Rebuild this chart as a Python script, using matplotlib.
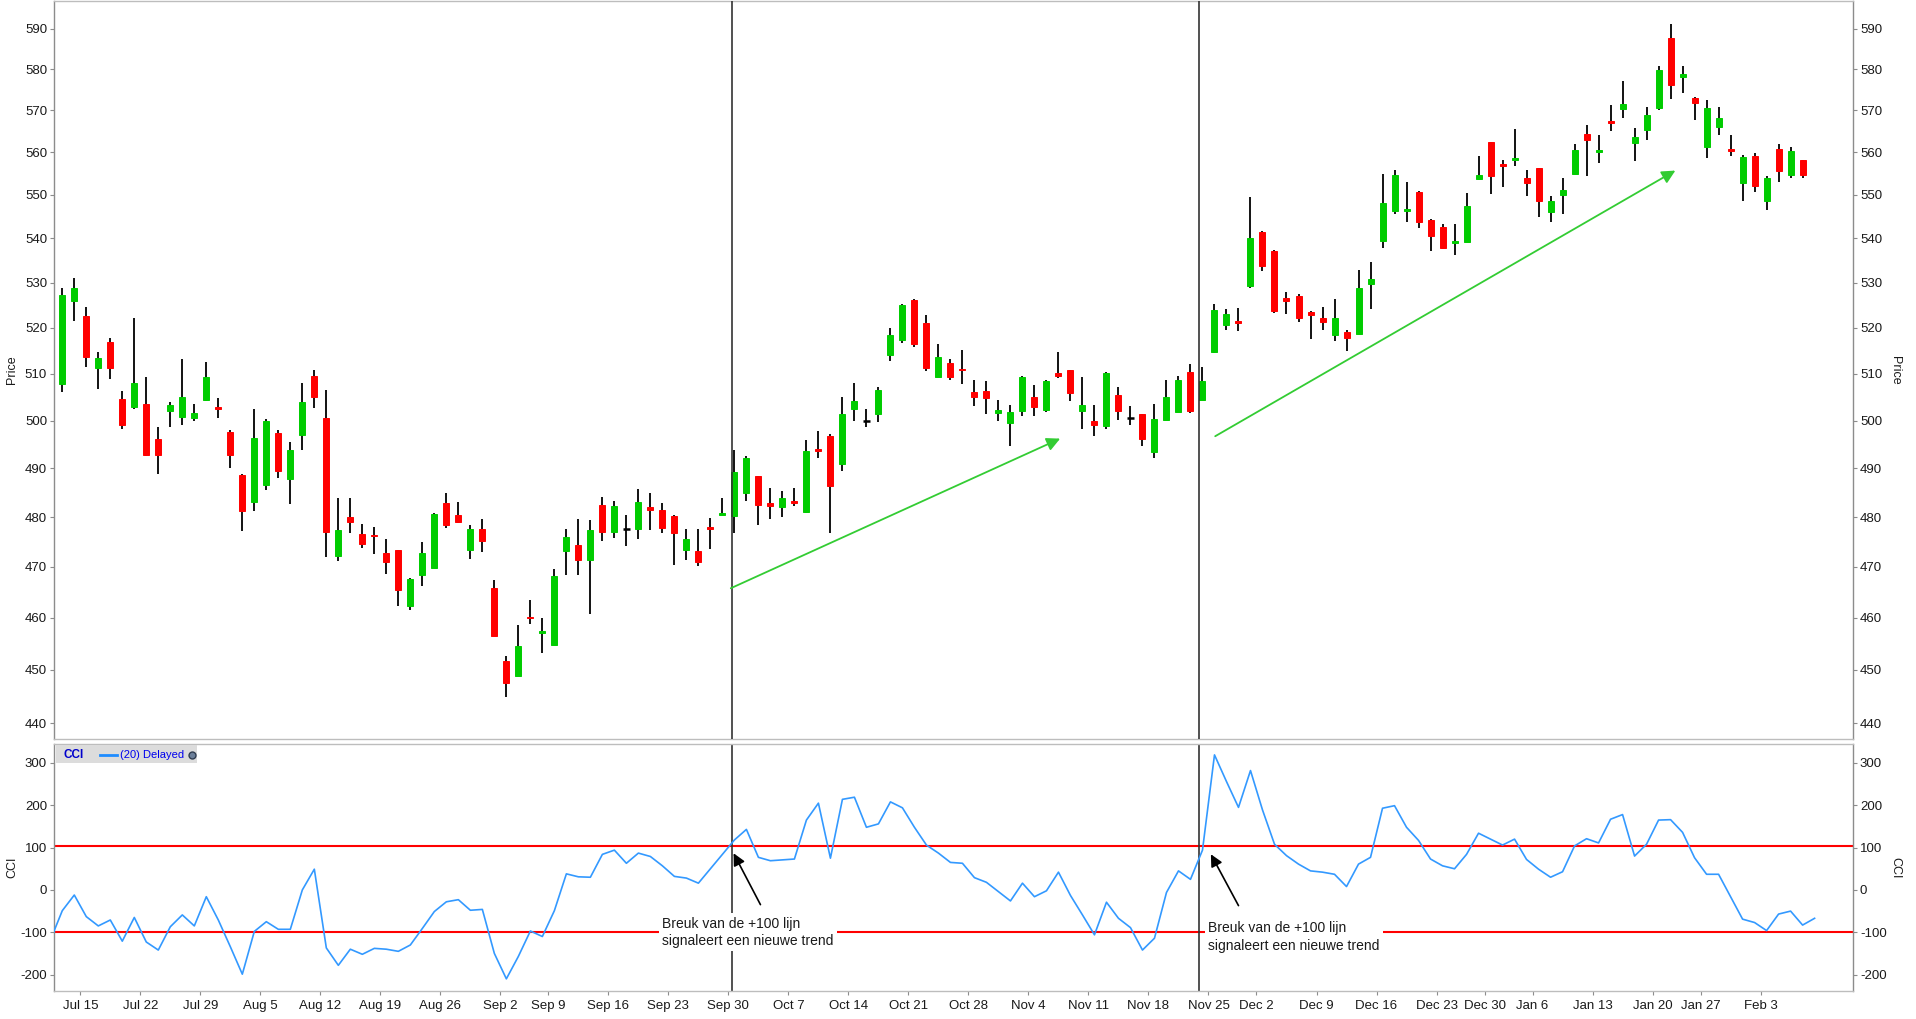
import matplotlib
matplotlib.use('Agg')
import matplotlib.pyplot as plt
from matplotlib.patches import Rectangle
from matplotlib.lines import Line2D
from matplotlib.ticker import FixedLocator, NullLocator, FixedFormatter
import numpy as np

plt.rcParams['font.family'] = ['Liberation Sans', 'DejaVu Sans']

# ---------------- data ----------------
opens = [507.8, 526.0, 522.6, 511.2, 516.9, 504.6, 502.8, 503.5, 496.1, 502.1,
         500.7, 500.5, 504.4, 502.9, 497.5, 488.6, 483.0, 486.5, 497.3, 487.8,
         496.9, 509.6, 500.6, 472.1, 480.1, 476.6, 476.4, 472.7, 473.3, 462.4,
         468.5, 469.9, 482.9, 480.5, 473.3, 477.6, 465.9, 451.7, 448.9, 460.2,
         457.0, 454.8, 473.2, 474.3, 471.3, 482.5, 477.1, 477.7, 477.7, 482.1,
         481.5, 480.3, 473.3, 473.1, 478.1, 480.5, 480.3, 485.0, 488.4, 482.8,
         482.1, 483.3, 481.1, 494.0, 496.7, 490.9, 502.5, 500.0, 501.3, 514.1,
         517.3, 526.2, 521.0, 509.3, 512.4, 511.1, 506.0, 506.2, 501.6, 499.4,
         502.1, 505.1, 502.3, 510.1, 510.7, 502.1, 499.8, 498.8, 505.4, 500.6,
         501.3, 493.4, 500.2, 501.9, 510.3, 504.4, 514.6, 520.7, 521.5, 529.3,
         541.5, 537.2, 526.5, 527.1, 523.5, 522.2, 518.5, 519.0, 518.7, 529.8,
         539.3, 546.4, 546.4, 550.8, 544.3, 542.7, 539.0, 539.2, 553.7, 562.4,
         557.2, 558.2, 554.0, 556.3, 546.0, 550.1, 554.9, 564.3, 560.0, 567.4,
         570.3, 562.2, 565.4, 570.6, 587.8, 578.1, 573.1, 561.2, 566.1, 560.7,
         552.8, 559.1, 548.5, 560.7, 554.7, 558.2]
highs = [528.9, 531.0, 524.6, 514.6, 517.8, 506.3, 522.2, 509.3, 498.6, 503.9,
         513.1, 503.6, 512.6, 504.7, 498.1, 488.8, 502.5, 500.4, 498.1, 495.5,
         508.0, 510.7, 506.6, 484.0, 484.0, 478.7, 478.1, 475.5, 473.4, 467.8,
         475.0, 480.8, 485.0, 483.0, 478.5, 479.7, 467.4, 452.7, 458.7, 463.4,
         459.9, 469.7, 477.7, 479.7, 479.5, 484.2, 483.3, 480.5, 485.8, 485.0,
         482.9, 480.5, 477.7, 477.7, 479.9, 484.0, 493.8, 492.6, 488.5, 486.0,
         485.4, 486.0, 495.9, 497.7, 497.1, 505.0, 508.1, 502.5, 507.1, 520.0,
         525.3, 526.3, 522.8, 516.5, 513.2, 515.2, 508.6, 508.4, 504.3, 503.2,
         509.4, 507.5, 508.6, 514.6, 510.9, 509.2, 503.2, 510.3, 507.1, 503.0,
         501.4, 503.6, 508.6, 509.4, 512.0, 511.4, 525.3, 524.2, 524.4, 549.6,
         541.6, 537.3, 527.8, 527.5, 523.6, 524.6, 526.4, 519.5, 532.9, 534.6,
         554.9, 555.8, 553.1, 550.9, 544.4, 543.4, 543.2, 550.5, 559.1, 562.5,
         558.2, 565.5, 555.8, 556.4, 549.8, 554.0, 561.9, 566.5, 564.1, 571.3,
         577.2, 565.8, 570.8, 580.8, 591.3, 580.8, 573.2, 572.4, 570.8, 564.1,
         559.3, 559.8, 554.5, 561.9, 561.2, 558.3]
lows = [506.1, 521.5, 511.4, 506.7, 508.9, 498.2, 502.5, 492.6, 488.8, 498.6,
        499.0, 499.9, 504.2, 500.5, 490.1, 477.3, 481.3, 485.6, 488.0, 482.7,
        493.8, 502.6, 471.9, 471.1, 476.7, 473.7, 472.5, 468.7, 462.4, 461.5,
        466.3, 469.8, 477.9, 478.9, 471.5, 472.9, 456.4, 444.8, 448.9, 458.8,
        453.3, 454.8, 468.5, 468.5, 460.8, 475.1, 475.7, 474.1, 475.5, 477.5,
        476.9, 470.3, 471.3, 470.1, 473.5, 480.5, 476.9, 483.3, 478.5, 479.7,
        480.1, 482.3, 480.9, 492.1, 476.9, 489.5, 499.8, 498.6, 499.6, 512.8,
        516.7, 515.8, 510.6, 509.2, 508.6, 507.8, 503.1, 501.4, 500.0, 494.6,
        501.0, 501.0, 501.9, 509.0, 504.1, 498.3, 496.7, 498.3, 500.2, 499.0,
        494.6, 492.1, 500.1, 501.8, 501.7, 504.3, 514.4, 519.6, 519.2, 528.7,
        532.7, 523.3, 523.1, 521.3, 517.6, 519.5, 517.1, 515.0, 518.6, 524.2,
        537.9, 545.5, 543.8, 542.4, 537.1, 537.5, 536.3, 539.2, 553.6, 550.3,
        551.9, 556.8, 549.8, 544.8, 543.8, 545.7, 554.8, 554.5, 557.5, 565.0,
        568.1, 558.0, 562.9, 570.1, 572.8, 574.3, 567.6, 558.6, 564.1, 559.1,
        548.5, 550.8, 546.6, 553.1, 554.0, 554.0]
closes = [527.3, 528.9, 513.6, 513.3, 511.2, 499.0, 508.1, 492.8, 492.8, 503.3,
          505.0, 501.5, 509.2, 502.4, 492.8, 481.2, 496.3, 500.0, 489.5, 493.8,
          503.9, 505.0, 477.1, 477.5, 479.1, 474.5, 476.1, 470.9, 465.4, 467.7,
          472.7, 480.7, 478.5, 479.1, 477.6, 475.1, 456.5, 447.5, 454.6, 459.9,
          457.5, 468.3, 475.9, 471.3, 477.5, 477.1, 482.3, 477.7, 483.1, 481.5,
          477.9, 476.7, 475.5, 470.9, 477.7, 480.9, 489.3, 492.1, 482.5, 482.3,
          484.0, 482.8, 493.6, 493.7, 486.4, 501.3, 504.2, 500.0, 506.4, 518.4,
          525.1, 516.5, 511.2, 513.7, 509.3, 510.7, 504.9, 504.7, 502.3, 501.9,
          509.3, 502.9, 508.4, 509.6, 505.8, 503.4, 499.0, 510.1, 502.1, 500.6,
          496.1, 500.4, 505.1, 508.6, 502.1, 508.4, 524.0, 523.1, 521.0, 540.2,
          533.8, 523.7, 526.0, 522.2, 522.8, 521.3, 522.2, 517.8, 528.7, 530.9,
          548.2, 554.6, 546.8, 543.8, 540.6, 537.9, 539.5, 547.5, 554.6, 554.4,
          556.8, 558.6, 552.8, 548.5, 548.7, 551.2, 560.5, 562.9, 560.5, 566.9,
          571.5, 563.6, 568.8, 579.8, 576.2, 578.9, 571.8, 570.6, 568.1, 560.2,
          558.8, 552.2, 554.0, 555.6, 560.2, 554.7]

# CCI(20): first value belongs to the day before the first candle,
# last value to the day after the last candle
cci = [-119, -49, -12, -63, -85, -71, -121, -65, -123, -142, -87,
       -59, -85, -16, -71, -134, -199, -98, -75, -93, -93,
       0, 49, -137, -178, -140, -152, -138, -140, -145, -130,
       -91, -51, -28, -23, -48, -46, -150, -210, -157, -97,
       -110, -49, 38, 31, 30, 84, 94, 63, 87, 79,
       57, 32, 28, 16, 50, 84, 118, 143, 77, 69,
       71, 73, 165, 205, 75, 214, 219, 148, 156, 208,
       194, 148, 106, 87, 65, 63, 29, 18, -4, -26,
       16, -16, -2, 42, -13, -59, -106, -29, -67, -89,
       -142, -114, -6, 45, 25, 94, 319, 256, 195, 282,
       189, 108, 81, 61, 45, 42, 37, 8, 61, 77,
       193, 199, 148, 117, 73, 57, 50, 84, 134, 120,
       106, 120, 72, 49, 30, 43, 104, 121, 111, 167,
       178, 80, 108, 165, 166, 136, 76, 37, 37, -16,
       -69, -77, -96, -57, -50, -83, -67]

week_labels = ['Jul 15', 'Jul 22', 'Jul 29', 'Aug 5', 'Aug 12', 'Aug 19', 'Aug 26',
               'Sep 2', 'Sep 9', 'Sep 16', 'Sep 23', 'Sep 30', 'Oct 7', 'Oct 14',
               'Oct 21', 'Oct 28', 'Nov 4', 'Nov 11', 'Nov 18', 'Nov 25', 'Dec 2',
               'Dec 9', 'Dec 16', 'Dec 23', 'Dec 30', 'Jan 6', 'Jan 13', 'Jan 20',
               'Jan 27', 'Feb 3']
# trading-day index of the first session of each labelled week
week_start_idx = [2, 7, 12, 17, 22, 27, 32, 37, 41, 46, 51, 56, 61, 66, 71, 76,
                  81, 86, 91, 96, 100, 105, 110, 115, 119, 123, 128, 133, 137, 142]

price_ticks = [440, 450, 460, 470, 480, 490, 500, 510, 520, 530, 540, 550, 560, 570, 580, 590]
cci_ticks = [-200, -100, 0, 100, 200, 300]
cci_levels = [103, -100]
signal_idx = [55.78, 94.75]
note_text = 'Breuk van de +100 lijn\nsignaleert een nieuwe trend'

# ---------------- layout ----------------
W, H = 1916, 1019
fig = plt.figure(figsize=(W / 100, H / 100), dpi=100)


def fx(px):
    return px / W


def fy(py):
    return 1 - py / H


L, R = 54, 1853
ax = fig.add_axes([fx(L), fy(739.3), fx(R) - fx(L), fy(0.5) - fy(739.3)])
ax2 = fig.add_axes([fx(L), fy(990.7), fx(R) - fx(L), fy(744.3) - fy(990.7)])

xmin, xmax = -0.69, 149.2
TXT = '#1a1a1a'
for a in (ax, ax2):
    a.set_xlim(xmin, xmax)
    a.spines['left'].set_color('#8c8c8c')
    a.spines['right'].set_color('#8c8c8c')
    a.spines['top'].set_color('#bdbdbd')
    a.spines['bottom'].set_color('#bdbdbd')
    for s in a.spines.values():
        s.set_linewidth(1.0)
    a.tick_params(axis='y', left=True, right=True, labelleft=True, labelright=True,
                  length=3, width=0.8, color='#8c8c8c', labelsize=9.5,
                  labelcolor=TXT, pad=2)

# ---------------- price panel ----------------
ax.set_yscale('log')
ax.set_ylim(437.0, 597.1)
ax.yaxis.set_major_locator(FixedLocator(price_ticks))
ax.yaxis.set_minor_locator(NullLocator())
ax.yaxis.set_major_formatter(FixedFormatter([str(t) for t in price_ticks]))
ax.yaxis.set_minor_formatter(FixedFormatter([]))
ax.tick_params(axis='x', bottom=False, labelbottom=False)

o = np.array(opens)
c = np.array(closes)
h = np.array(highs)
lo = np.array(lows)
x = np.arange(len(o))
ax.vlines(x, lo, h, color='black', lw=1.3, zorder=2)
up = c > o
dn = c < o
eq = c == o
bw = 0.5
ax.bar(x[up], c[up] - o[up], bottom=o[up], width=bw, color='#00cc00',
       edgecolor='#00cc00', lw=0.7, zorder=3)
ax.bar(x[dn], o[dn] - c[dn], bottom=c[dn], width=bw, color='#ff0000',
       edgecolor='#ff0000', lw=0.7, zorder=3)
ax.hlines(o[eq], x[eq] - bw / 2 - 0.05, x[eq] + bw / 2 + 0.05, color='black', lw=1.8, zorder=3)

for v in signal_idx:
    ax.axvline(v, color='#333333', lw=1.2, zorder=4)

green = '#33cc33'
ax.annotate('', xy=(83.14, 496.2), xytext=(55.7, 465.8),
            arrowprops=dict(arrowstyle='-|>', color=green, lw=1.3,
                            mutation_scale=20, shrinkA=0, shrinkB=0), zorder=5)
ax.annotate('', xy=(134.4, 555.7), xytext=(96.06, 496.7),
            arrowprops=dict(arrowstyle='-|>', color=green, lw=1.3,
                            mutation_scale=20, shrinkA=0, shrinkB=0), zorder=5)

# ---------------- CCI panel ----------------
ax2.set_ylim(-238, 344)
ax2.set_yticks(cci_ticks)
ax2.set_yticklabels([str(t) for t in cci_ticks])
xc = np.arange(-1, len(cci) - 1)
ax2.plot(xc, cci, color='#3399ff', lw=1.2, zorder=3)
for lev in cci_levels:
    ax2.axhline(lev, color='#ff0000', lw=1.5, zorder=2)
for v in signal_idx:
    ax2.axvline(v, color='#333333', lw=1.2, zorder=2.5)

ax2.set_xticks([i - 0.5 for i in week_start_idx])
ax2.set_xticklabels(week_labels)
ax2.tick_params(axis='x', length=3, width=0.8, color='#8c8c8c', labelsize=9.5,
                labelcolor=TXT, pad=4)

box = dict(facecolor='white', edgecolor='none', pad=2.5)
ax2.text(50.0, -100, note_text, ha='left', va='center', fontsize=10, color=TXT,
         linespacing=1.3, bbox=box, zorder=6)
ax2.text(95.5, -111, note_text, ha='left', va='center', fontsize=10, color=TXT,
         linespacing=1.3, bbox=box, zorder=6)
ax2.annotate('', xy=(55.93, 86.7), xytext=(58.17, -34.7),
             arrowprops=dict(arrowstyle='-|>', color='black', lw=1.2,
                             mutation_scale=18, shrinkA=0, shrinkB=0), zorder=7)
ax2.annotate('', xy=(95.7, 84.3), xytext=(98.0, -37.0),
             arrowprops=dict(arrowstyle='-|>', color='black', lw=1.2,
                             mutation_scale=18, shrinkA=0, shrinkB=0), zorder=7)

# axis titles
fig.text(fx(12), fy(370), 'Price', rotation=90, ha='center', va='center', fontsize=9, color=TXT)
fig.text(fx(1895), fy(370), 'Price', rotation=270, ha='center', va='center', fontsize=9, color=TXT)
fig.text(fx(12), fy(867.5), 'CCI', rotation=90, ha='center', va='center', fontsize=9, color=TXT)
fig.text(fx(1895), fy(867.5), 'CCI', rotation=270, ha='center', va='center', fontsize=9, color=TXT)

# indicator legend tag
fig.add_artist(Rectangle((fx(56), fy(763)), fx(197) - fx(56), fy(745) - fy(763),
                         transform=fig.transFigure, facecolor='#dcdcdc', edgecolor='none', zorder=8))
fig.text(fx(64), fy(755.5), 'CCI', fontsize=8.5, fontweight='bold', color='#0000cc',
         ha='left', va='center', zorder=9)
fig.add_artist(Line2D([fx(99.5), fx(116.5)], [fy(755), fy(755)], transform=fig.transFigure,
                      color='#1e8cff', lw=2, zorder=9))
fig.text(fx(119.5), fy(755.5), '(20) Delayed', fontsize=8, color='#0000ee',
         ha='left', va='center', zorder=9)
fig.add_artist(Line2D([fx(191.5)], [fy(755)], transform=fig.transFigure, marker='o',
                      markersize=5, color='#6b7f99', markeredgecolor='#2f3d50', zorder=9))

fig.savefig('out.png', dpi=100, facecolor='white')
